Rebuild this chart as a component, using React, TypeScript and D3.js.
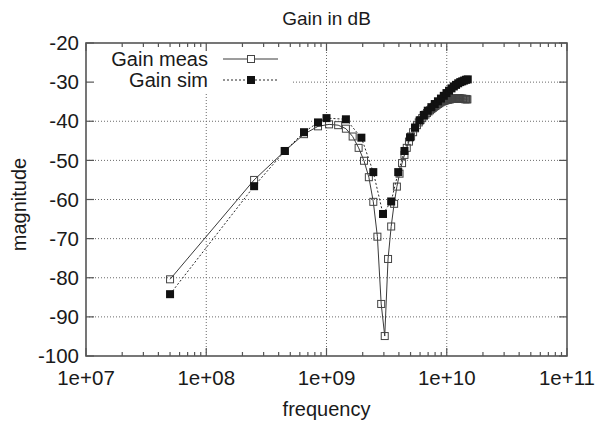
import React from "react";
import * as d3 from "d3";

const measFreqGHz = [0.05, 0.25, 0.45, 0.65, 0.85, 1.05, 1.25, 1.45, 1.65, 1.85, 2.05, 2.25, 2.45, 2.65, 2.85, 3.05, 3.25, 3.45, 3.65, 3.85, 4.05, 4.25, 4.45, 4.65, 4.85, 5.05, 5.25, 5.45, 5.65, 5.85, 6.05, 6.25, 6.45, 6.65, 6.85, 7.05, 7.25, 7.45, 7.65, 7.85, 8.05, 8.25, 8.45, 8.65, 8.85, 9.05, 9.25, 9.45, 9.65, 9.85, 10.05, 10.25, 10.45, 10.65, 10.85, 11.05, 11.25, 11.45, 11.65, 11.85, 12.05, 12.25, 12.45, 12.65, 12.85, 13.05, 13.25, 13.45, 13.65, 13.85, 14.05, 14.25, 14.45, 14.65, 14.85];
const measDb = [-80.4, -55.0, -47.6, -43.3, -41.3, -40.8, -41.0, -41.9, -43.9, -46.8, -50.1, -54.3, -60.6, -69.5, -86.7, -94.9, -75.2, -66.9, -61.1, -56.7, -53.4, -50.7, -48.6, -46.8, -45.2, -43.9, -42.8, -41.8, -41.0, -40.3, -39.7, -39.2, -38.7, -38.3, -37.9, -37.5, -37.2, -36.9, -36.6, -36.3, -36.1, -35.8, -35.6, -35.4, -35.2, -35.0, -34.9, -34.8, -34.7, -34.6, -34.5, -34.5, -34.4, -34.4, -34.3, -34.3, -34.3, -34.2, -34.2, -34.2, -34.2, -34.1, -34.1, -34.2, -34.2, -34.2, -34.3, -34.2, -34.3, -34.3, -34.3, -34.4, -34.3, -34.4, -34.4];

const simFreqGHz = [0.05, 0.25, 0.45, 0.65, 0.85, 1.0, 1.45, 1.95, 2.45, 2.95, 3.45, 3.95, 4.45, 4.95, 5.45, 5.95, 6.45, 6.95, 7.45, 7.95, 8.45, 8.95, 9.45, 9.95, 10.45, 10.95, 11.45, 11.95, 12.45, 12.95, 13.45, 13.95, 14.45, 14.95];
const simDb = [-84.2, -56.6, -47.6, -42.8, -40.3, -39.2, -39.5, -44.2, -53.0, -63.7, -60.5, -53.0, -47.6, -44.1, -41.6, -39.8, -38.4, -37.3, -36.4, -35.6, -34.9, -34.2, -33.5, -32.8, -32.2, -31.6, -31.1, -30.7, -30.3, -30.0, -29.8, -29.6, -29.4, -29.3];

const xTicks = [1e7, 1e8, 1e9, 1e10, 1e11];
const xTickLabels = ["1e+07", "1e+08", "1e+09", "1e+10", "1e+11"];
const yTicks = [-100, -90, -80, -70, -60, -50, -40, -30, -20];
const seriesNames = ["Gain meas", "Gain sim"];

const W = 600, H = 426;
const L = 86, R = 567, T = 43, B = 356;
const FONT = "'Liberation Sans', Arial, Helvetica, sans-serif";

export default function App() {
  const x = d3.scaleLog().domain([1e7, 1e11]).range([L, R]);
  const y = d3.scaleLinear().domain([-100, -20]).range([B, T]);

  const meas = measFreqGHz.map((f, i) => [f * 1e9, measDb[i]] as [number, number]);
  const sim = simFreqGHz.map((f, i) => [f * 1e9, simDb[i]] as [number, number]);
  const line = d3.line<[number, number]>().x(d => x(d[0])).y(d => y(d[1]));

  const minor: number[] = [];
  for (let e = 7; e < 11; e++) for (let k = 2; k <= 9; k++) minor.push(k * Math.pow(10, e));

  const gridStroke = "#6a6a6a";
  const axisStroke = "#555";
  const textFill = "#1a1a1a";
  const ms = 7;
  const fs = 8;

  return (
    <svg width={W} height={H} style={{ position: "absolute", left: 0, top: 0, background: "#fff" }} fontFamily={FONT}>
      <rect x={0} y={0} width={W} height={H} fill="#fff" />
      {yTicks.filter(v => v > -100 && v < -20).map(v => (
        <line key={"gy" + v} x1={L} x2={R} y1={y(v)} y2={y(v)} stroke={gridStroke} strokeWidth={1} strokeDasharray="1,2" />
      ))}
      {xTicks.filter(v => v > 1e7 && v < 1e11).map(v => (
        <line key={"gx" + v} x1={x(v)} x2={x(v)} y1={T} y2={B} stroke={gridStroke} strokeWidth={1} strokeDasharray="1,2" />
      ))}
      <rect x={L + 1} y={T + 1} width={290 - L} height={93 - T} fill="#fff" />
      {yTicks.map(v => (
        <g key={"ty" + v}>
          <line x1={L} x2={L + 8} y1={y(v)} y2={y(v)} stroke={axisStroke} strokeWidth={1.2} />
          <line x1={R} x2={R - 8} y1={y(v)} y2={y(v)} stroke={axisStroke} strokeWidth={1.2} />
          <text x={79} y={y(v)} dy="0.35em" textAnchor="end" fontSize={20.5} fill={textFill}>{v}</text>
        </g>
      ))}
      {xTicks.map((v, i) => (
        <g key={"tx" + v}>
          <line x1={x(v)} x2={x(v)} y1={B} y2={B - 8} stroke={axisStroke} strokeWidth={1.2} />
          <line x1={x(v)} x2={x(v)} y1={T} y2={T + 8} stroke={axisStroke} strokeWidth={1.2} />
          <text x={x(v)} y={385} textAnchor="middle" fontSize={20.5} fill={textFill}>{xTickLabels[i]}</text>
        </g>
      ))}
      {minor.map(v => (
        <g key={"mx" + v}>
          <line x1={x(v)} x2={x(v)} y1={B} y2={B - 4} stroke={axisStroke} strokeWidth={1.2} />
          <line x1={x(v)} x2={x(v)} y1={T} y2={T + 4} stroke={axisStroke} strokeWidth={1.2} />
        </g>
      ))}
      <path d={line(meas) || ""} fill="none" stroke="#3a3a3a" strokeWidth={1} />
      <path d={line(sim) || ""} fill="none" stroke="#2a2a2a" strokeWidth={1} strokeDasharray="2,2" />
      {meas.map((d, i) => (
        <rect key={"m" + i} x={x(d[0]) - ms / 2} y={y(d[1]) - ms / 2} width={ms} height={ms} fill="none" stroke="#444" strokeWidth={1} />
      ))}
      {sim.map((d, i) => (
        <rect key={"s" + i} x={x(d[0]) - fs / 2} y={y(d[1]) - fs / 2} width={fs} height={fs} fill="#111" />
      ))}
      <text x={208} y={59} dy="0.35em" textAnchor="end" fontSize={20} fill={textFill}>{seriesNames[0]}</text>
      <line x1={223} x2={278} y1={59} y2={59} stroke="#3a3a3a" strokeWidth={1} />
      <rect x={251 - ms / 2} y={59 - ms / 2} width={ms} height={ms} fill="#fff" stroke="#444" strokeWidth={1} />
      <text x={208} y={80} dy="0.35em" textAnchor="end" fontSize={20} fill={textFill}>{seriesNames[1]}</text>
      <line x1={223} x2={278} y1={80} y2={80} stroke="#2a2a2a" strokeWidth={1} strokeDasharray="2,2" />
      <rect x={251 - fs / 2} y={80 - fs / 2} width={fs} height={fs} fill="#111" />
      <rect x={L} y={T} width={R - L} height={B - T} fill="none" stroke={axisStroke} strokeWidth={1.6} />
      <text x={(L + R) / 2} y={25} textAnchor="middle" fontSize={19} fill={textFill}>Gain in dB</text>
      <text x={(L + R) / 2} y={416} textAnchor="middle" fontSize={20} fill={textFill}>frequency</text>
      <text transform={`translate(26,${(T + B) / 2 + 5}) rotate(-90)`} textAnchor="middle" fontSize={20} fill={textFill}>magnitude</text>
    </svg>
  );
}
